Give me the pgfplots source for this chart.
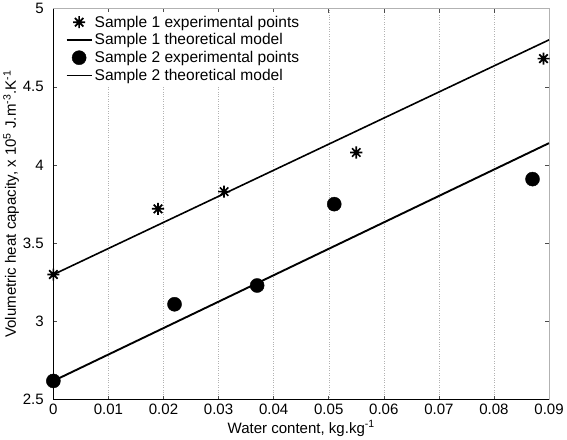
\documentclass[border=0pt]{standalone}
\usepackage{fontspec}
\setmainfont{Liberation Sans}
\usepackage{pgfplots}
\pgfplotsset{compat=1.18}

% eight-armed asterisk, like the original marker
\pgfdeclareplotmark{ast8}{%
  \pgfpathmoveto{\pgfpoint{0pt}{\pgfplotmarksize}}%
  \pgfpathlineto{\pgfpoint{0pt}{-\pgfplotmarksize}}%
  \pgfpathmoveto{\pgfpoint{\pgfplotmarksize}{0pt}}%
  \pgfpathlineto{\pgfpoint{-\pgfplotmarksize}{0pt}}%
  \pgfpathmoveto{\pgfpoint{.7\pgfplotmarksize}{.7\pgfplotmarksize}}%
  \pgfpathlineto{\pgfpoint{-.7\pgfplotmarksize}{-.7\pgfplotmarksize}}%
  \pgfpathmoveto{\pgfpoint{-.7\pgfplotmarksize}{.7\pgfplotmarksize}}%
  \pgfpathlineto{\pgfpoint{.7\pgfplotmarksize}{-.7\pgfplotmarksize}}%
  \pgfusepathqstroke}

\begin{document}
\begin{tikzpicture}
\begin{axis}[
    scale only axis, width=493bp, height=389bp,
    xmin=0, xmax=0.09, ymin=2.5, ymax=5,
    xtick={0,0.01,...,0.09}, ytick={2.5,3,...,5},
    scaled x ticks=false,
    xticklabel style={/pgf/number format/fixed, /pgf/number format/precision=2, yshift=-1bp},
    yticklabel style={/pgf/number format/fixed, xshift=-6bp},
    /pgf/number format/assume math mode=true,
    tick align=inside, major tick length=4bp,
    tick style={black!70, line width=0.5pt},
    xmajorgrids, grid style={dotted, black!30, line width=0.4pt},
    axis line style={black!30, line width=0.7pt},
    font=\fontsize{15}{17}\selectfont,
    xlabel={Water content, kg.kg\textsuperscript{-1}},
    ylabel={Volumetric heat capacity, x 10\textsuperscript{5} J.m\textsuperscript{-3}.K\textsuperscript{-1}},
    xlabel style={yshift=1bp},
    ylabel style={yshift=-3bp},
    legend style={at={(rel axis cs:0,1)}, anchor=north west, xshift=9bp, yshift=-3bp,
        draw=none, fill=white, font=\fontsize{15.5}{17}\selectfont,
        row sep=1bp, cells={anchor=west}},
    legend image code/.code={
        \draw[mark repeat=2, mark phase=2] plot coordinates {(0bp,0bp) (12.5bp,0bp) (25bp,0bp)};
    },
    legend cell align=left,
    after end axis/.code={
        \draw[black, line width=0.8pt] (rel axis cs:0,1) -- (rel axis cs:0,0) -- (rel axis cs:1,0);
    },
]
\addplot[only marks, mark=ast8, mark size=6bp, line width=1.7pt, black]
    coordinates {(0,3.30) (0.019,3.72) (0.031,3.83) (0.055,4.08) (0.089,4.68)};
\addlegendentry{Sample 1 experimental points}
\addplot[black, line width=1.6pt] coordinates {(0,3.30) (0.09,4.80)};
\addlegendentry{Sample 1 theoretical model}
\addplot[only marks, mark=*, mark size=7bp, black]
    coordinates {(0,2.62) (0.022,3.11) (0.037,3.23) (0.051,3.75) (0.087,3.91)};
\addlegendentry{Sample 2 experimental points}
\addplot[black, line width=1.9pt] coordinates {(0,2.62) (0.09,4.14)};
\addlegendentry{Sample 2 theoretical model}
\end{axis}
\end{tikzpicture}
\end{document}
